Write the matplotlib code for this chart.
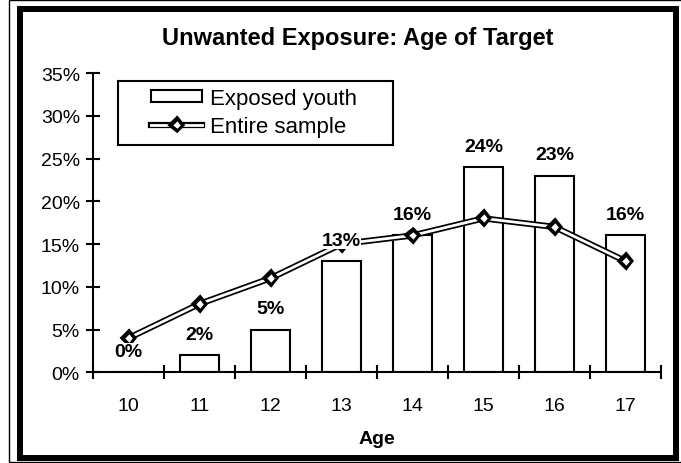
import matplotlib
matplotlib.use("Agg")
import matplotlib.pyplot as plt
import matplotlib.patheffects as pe
from matplotlib.patches import Rectangle
from matplotlib.ticker import PercentFormatter

plt.rcParams["font.family"] = ["Liberation Sans", "DejaVu Sans"]

ages = ["10", "11", "12", "13", "14", "15", "16", "17"]
exposed_youth = [0, 2, 5, 13, 16, 24, 23, 16]
entire_sample = [4, 8, 11, 15, 16, 18, 17, 13]

W, H = 681, 464
fig = plt.figure(figsize=(W / 100, H / 100), dpi=100)
ax = fig.add_axes([93 / W, 1 - 373.3 / H, 568 / W, 299.3 / H])

x = list(range(len(ages)))
bars = ax.bar(x, exposed_youth, width=0.56, color="white", edgecolor="black",
              linewidth=1.5, label="Exposed youth", zorder=2)

line, = ax.plot(x, entire_sample, color="white", linewidth=2, marker="D", markersize=5,
                markerfacecolor="white", markeredgecolor="black", markeredgewidth=0.8,
                label="Entire sample", zorder=3,
                path_effects=[pe.Stroke(linewidth=4.5, foreground="black"), pe.Normal()])

for xi, v in zip(x, exposed_youth):
    ax.annotate(f"{v}%", (xi, v), xytext=(0, 15), textcoords="offset points",
                ha="center", va="center", fontsize=14, fontweight="bold", zorder=4,
                bbox=dict(facecolor="white", edgecolor="none", pad=0))

ax.set_xlim(-0.5, len(ages) - 0.5)
ax.set_ylim(0, 35)
ax.set_yticks(range(0, 36, 5))
ax.yaxis.set_major_formatter(PercentFormatter(decimals=0))
ax.set_xticks(x)
ax.set_xticklabels(ages)
ax.set_xticks([i - 0.5 for i in range(len(ages) + 1)], minor=True)

ax.tick_params(axis="x", which="major", length=0, pad=17.5, labelsize=14)
ax.tick_params(axis="x", which="minor", direction="inout", length=9.4, width=1.5)
ax.tick_params(axis="y", direction="inout", length=9.4, width=1.5, pad=4.7, labelsize=14)

for s in ["top", "right"]:
    ax.spines[s].set_visible(False)
for s in ["left", "bottom"]:
    ax.spines[s].set_linewidth(1.5)

# legend without its own frame, box drawn separately
leg = fig.legend([bars, line], ["Exposed youth", "Entire sample"],
                 loc="upper left", bbox_to_anchor=(151 / W, 1 - 89 / H),
                 borderaxespad=0, borderpad=0, fontsize=16, frameon=False,
                 handlelength=2.3, handleheight=0.5, handletextpad=0.36,
                 labelspacing=0.3)
fig.patches.append(Rectangle((118 / W, 1 - 146 / H), 275 / W, 64 / H,
                             transform=fig.transFigure, facecolor="white",
                             edgecolor="black", linewidth=1.5, zorder=0.5))

fig.text(358 / W, 1 - 38 / H, "Unwanted Exposure: Age of Target",
         ha="center", va="center", fontsize=17, fontweight="bold")
fig.text(377 / W, 1 - 440 / H, "Age", ha="center", va="center",
         fontsize=14, fontweight="bold")

# outer frame
fig.patches.append(Rectangle((20 / W, 1 - 458.5 / H), 655.5 / W, 448.5 / H,
                             transform=fig.transFigure, fill=False,
                             edgecolor="black", linewidth=4.3))
fig.patches.append(Rectangle((9 / W, 1 / H), 700 / W, 462 / H,
                             transform=fig.transFigure, fill=False,
                             edgecolor="black", linewidth=1))

fig.savefig("out.png", dpi=100)
